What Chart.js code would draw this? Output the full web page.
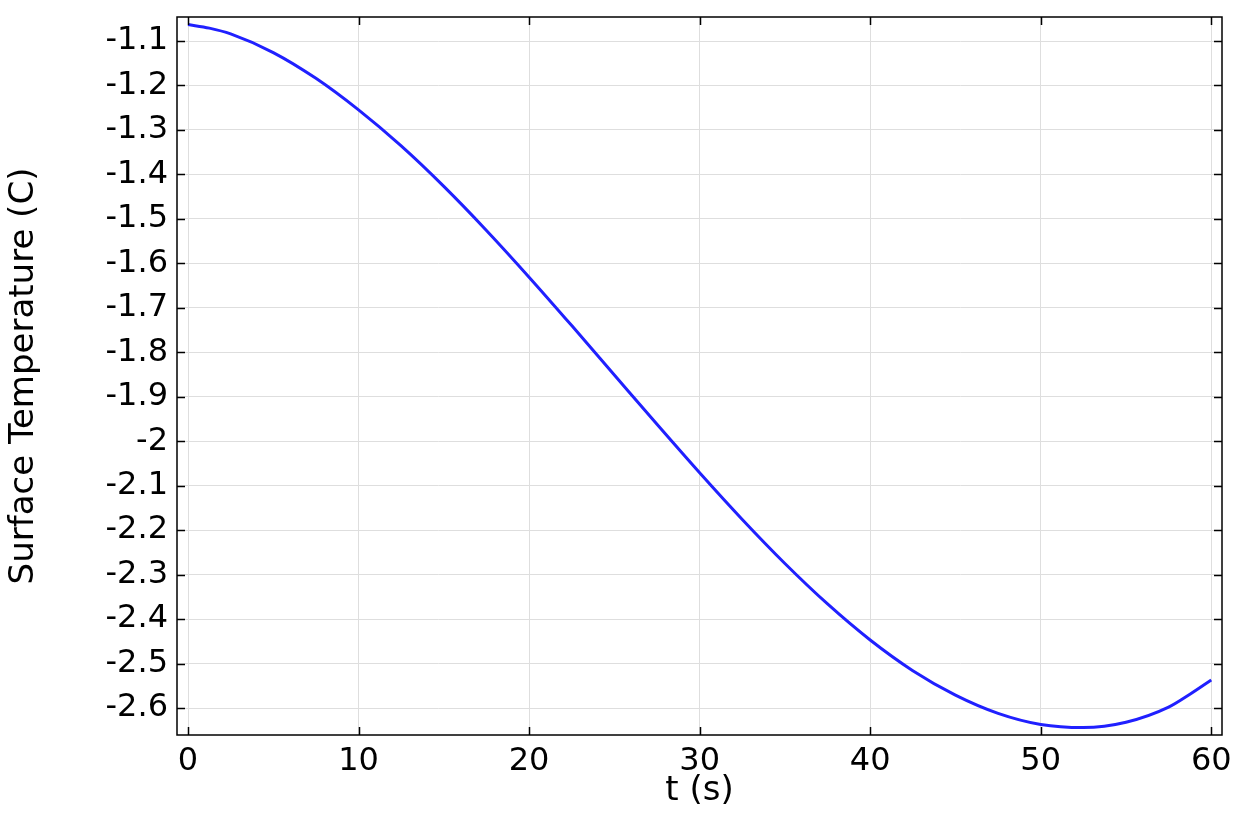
<!DOCTYPE html>
<html>
<head>
<meta charset="utf-8">
<script src="https://cdn.jsdelivr.net/npm/chart.js@4"></script>
<style>
  html, body { margin: 0; padding: 0; background: #fff; }
  #wrap { width: 1240px; height: 824px; }
</style>
</head>
<body>
<div id="wrap"><canvas id="chart" width="1240" height="824"></canvas></div>
<script>
// time (s) and surface temperature (C)
const times = [0, 1.25, 2.5, 5, 7.5, 10, 12.5, 15, 17.5, 20, 22.5, 25, 27.5, 30,
  32.5, 35, 37.5, 40, 42.5, 45, 47.5, 50, 52.5, 55, 57.5, 58.75, 60];
const temps = [-1.063, -1.071, -1.084, -1.126, -1.184, -1.255, -1.336, -1.427,
  -1.526, -1.631, -1.740, -1.851, -1.962, -2.071, -2.176, -2.275, -2.366,
  -2.447, -2.516, -2.571, -2.612, -2.637, -2.644, -2.632, -2.598, -2.569, -2.537];

const xTicks = [0, 10, 20, 30, 40, 50, 60];
const yTicks = [-1.1, -1.2, -1.3, -1.4, -1.5, -1.6, -1.7, -1.8, -1.9, -2,
  -2.1, -2.2, -2.3, -2.4, -2.5, -2.6];

const FONT = "'DejaVu Sans', sans-serif";

// frame and inward ticks on all four sides
const framePlugin = {
  id: "frame",
  afterDraw(chart) {
    const { ctx, chartArea: a, scales } = chart;
    const len = 8;
    ctx.save();
    ctx.strokeStyle = "#000";
    ctx.lineWidth = 1.5;
    ctx.strokeRect(a.left, a.top, a.right - a.left, a.bottom - a.top);
    ctx.beginPath();
    xTicks.forEach(v => {
      const x = Math.round(scales.x.getPixelForValue(v)) + 0.5;
      ctx.moveTo(x, a.bottom); ctx.lineTo(x, a.bottom - len);
      ctx.moveTo(x, a.top); ctx.lineTo(x, a.top + len);
    });
    yTicks.forEach(v => {
      const y = Math.round(scales.y.getPixelForValue(v)) + 0.5;
      ctx.moveTo(a.left, y); ctx.lineTo(a.left + len, y);
      ctx.moveTo(a.right, y); ctx.lineTo(a.right - len, y);
    });
    ctx.stroke();
    ctx.restore();
  }
};

new Chart(document.getElementById("chart"), {
  type: "line",
  data: {
    datasets: [{
      data: times.map((t, i) => ({ x: t, y: temps[i] })),
      borderColor: "rgb(32,32,255)",
      borderWidth: 3,
      pointRadius: 0,
      fill: false,
      cubicInterpolationMode: "monotone"
    }]
  },
  options: {
    responsive: false,
    animation: false,
    layout: { padding: { left: 0, top: 17, right: 18, bottom: 0 } },
    plugins: { legend: { display: false }, tooltip: { enabled: false } },
    scales: {
      x: {
        type: "linear",
        min: -0.645,
        max: 60.63,
        border: { display: false },
        grid: { color: "#dedede", lineWidth: 1, drawTicks: false },
        afterBuildTicks: s => { s.ticks = xTicks.map(v => ({ value: v })); },
        afterFit: s => { s.height = 89; s.paddingLeft = 0; s.paddingRight = 0; },
        ticks: {
          includeBounds: false,
          padding: 7,
          color: "#000",
          font: { family: FONT, size: 32 },
          maxRotation: 0,
          callback: v => String(v)
        },
        title: {
          display: true,
          text: "t (s)",
          color: "#000",
          font: { family: FONT, size: 34 },
          padding: { top: 12, bottom: 12 }
        }
      },
      y: {
        type: "linear",
        min: -2.6607,
        max: -1.046,
        border: { display: false },
        grid: { color: "#dedede", lineWidth: 1, drawTicks: false },
        afterBuildTicks: s => { s.ticks = yTicks.map(v => ({ value: v })); },
        afterFit: s => { s.width = 177; s.paddingTop = 0; s.paddingBottom = 0; },
        ticks: {
          includeBounds: false,
          padding: 9,
          color: "#000",
          font: { family: FONT, size: 32 },
          callback: v => String(Math.round(v * 10) / 10)
        },
        title: {
          display: true,
          text: "Surface Temperature (C)",
          color: "#000",
          font: { family: FONT, size: 34 },
          padding: { top: 4, bottom: 4 }
        }
      }
    }
  },
  plugins: [framePlugin]
});
</script>
</body>
</html>
